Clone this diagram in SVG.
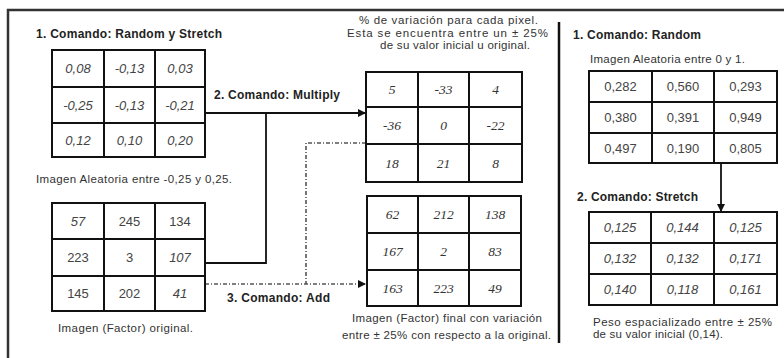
<svg xmlns="http://www.w3.org/2000/svg" width="784" height="358" viewBox="0 0 784 358">
<defs>
<marker id="arr" viewBox="0 0 10 10" refX="10" refY="5" markerWidth="9" markerHeight="8" markerUnits="userSpaceOnUse" orient="auto">
<path d="M0,0 L10,5 L0,10 z" fill="#111"/>
</marker>
<style>
.frame{fill:none;stroke:#333;stroke-width:2.5}
.grid rect,.grid line{fill:none;stroke:#111;stroke-width:2}
.grid rect{fill:#fff}
.lbl{font-family:"Liberation Sans",Arial,sans-serif;font-weight:bold;font-size:12px;fill:#222}
.txt{font-family:"Liberation Sans",Arial,sans-serif;font-size:11.5px;fill:#333}
.ns{font-family:"Liberation Sans",Arial,sans-serif;font-size:13px;fill:#444;text-anchor:middle}
.ni{font-family:"Liberation Sans",Arial,sans-serif;font-size:13px;font-style:italic;fill:#444;text-anchor:middle}
.nt{font-family:"Liberation Serif","Times New Roman",serif;font-size:13.5px;font-style:italic;fill:#333;text-anchor:middle}
.solid{fill:none;stroke:#111;stroke-width:1.8}
.dd{fill:none;stroke:#555;stroke-width:1.6;stroke-dasharray:4 2 1 2}
</style>
</defs>
<rect width="784" height="358" fill="#fff"/>
<rect class="frame" x="8" y="10" width="800" height="360"/>
<line x1="559" y1="22" x2="559" y2="343" stroke="#111" stroke-width="2.5"/>

<g id="connectors">
<path class="solid" d="M205,113 H366" marker-end="url(#arr)"/>
<path class="solid" d="M205,263 H266 V113"/>
<path class="dd" d="M366,143 H306 V284"/>
<path class="dd" d="M205,284 H366" marker-end="url(#arr)"/>
<path class="solid" d="M721,163 V212" marker-end="url(#arr)"/>
</g>

<g id="label-left">
<text class="lbl" x="36" y="38" textLength="186">1. Comando: Random y Stretch</text>
<text class="lbl" x="214" y="99" textLength="126">2. Comando: Multiply</text>
<text class="lbl" x="227" y="302" textLength="103">3. Comando: Add</text>
</g>

<g id="grid-random-stretch" class="grid">
<rect x="52" y="50" width="153" height="107"/>
<line x1="104" y1="50" x2="104" y2="157"/><line x1="155" y1="50" x2="155" y2="157"/>
<line x1="52" y1="87" x2="205" y2="87"/><line x1="52" y1="123" x2="205" y2="123"/>
<text class="ni" x="78" y="73">0,08</text><text class="ni" x="129.5" y="73">-0,13</text><text class="ni" x="180" y="73">0,03</text>
<text class="ni" x="78" y="109.5">-0,25</text><text class="ni" x="129.5" y="109.5">-0,13</text><text class="ni" x="180" y="109.5">-0,21</text>
<text class="ni" x="78" y="144.5">0,12</text><text class="ni" x="129.5" y="144.5">0,10</text><text class="ni" x="180" y="144.5">0,20</text>
<text class="txt" x="36" y="183" textLength="196">Imagen Aleatoria entre -0,25 y 0,25.</text>
</g>

<g id="grid-original" class="grid">
<rect x="52" y="203" width="153" height="108"/>
<line x1="104" y1="203" x2="104" y2="311"/><line x1="155" y1="203" x2="155" y2="311"/>
<line x1="52" y1="239" x2="205" y2="239"/><line x1="52" y1="276" x2="205" y2="276"/>
<text class="ni" x="78" y="225.5">57</text><text class="ns" x="129.5" y="225.5">245</text><text class="ns" x="180" y="225.5">134</text>
<text class="ns" x="78" y="262">223</text><text class="ns" x="129.5" y="262">3</text><text class="ni" x="180" y="262">107</text>
<text class="ns" x="78" y="298">145</text><text class="ns" x="129.5" y="298">202</text><text class="ni" x="180" y="298">41</text>
<text class="txt" x="58" y="332" textLength="135">Imagen (Factor) original.</text>
</g>

<g id="grid-variation" class="grid">
<text class="txt" x="359" y="24" textLength="179">% de variación para cada pixel.</text>
<text class="txt" x="347" y="37" textLength="201">Esta se encuentra entre un ± 25%</text>
<text class="txt" x="380" y="49" textLength="150">de su valor inicial u original.</text>
<rect x="366" y="72" width="156" height="110"/>
<line x1="418" y1="72" x2="418" y2="182"/><line x1="469" y1="72" x2="469" y2="182"/>
<line x1="366" y1="107" x2="522" y2="107"/><line x1="366" y1="144" x2="522" y2="144"/>
<text class="nt" x="392" y="94">5</text><text class="nt" x="443.5" y="94">-33</text><text class="nt" x="495.5" y="94">4</text>
<text class="nt" x="392" y="130">-36</text><text class="nt" x="443.5" y="130">0</text><text class="nt" x="495.5" y="130">-22</text>
<text class="nt" x="392" y="167.5">18</text><text class="nt" x="443.5" y="167.5">21</text><text class="nt" x="495.5" y="167.5">8</text>
</g>

<g id="grid-final" class="grid">
<rect x="367" y="196" width="154" height="110"/>
<line x1="418" y1="196" x2="418" y2="306"/><line x1="469" y1="196" x2="469" y2="306"/>
<line x1="367" y1="233" x2="521" y2="233"/><line x1="367" y1="270" x2="521" y2="270"/>
<text class="nt" x="392.5" y="219">62</text><text class="nt" x="443.5" y="219">212</text><text class="nt" x="495" y="219">138</text>
<text class="nt" x="392.5" y="256">167</text><text class="nt" x="443.5" y="256">2</text><text class="nt" x="495" y="256">83</text>
<text class="nt" x="392.5" y="292.5">163</text><text class="nt" x="443.5" y="292.5">223</text><text class="nt" x="495" y="292.5">49</text>
<text class="txt" x="352" y="322" textLength="190">Imagen (Factor) final con variación</text>
<text class="txt" x="342" y="339" textLength="209">entre ± 25% con respecto a la original.</text>
</g>

<g id="grid-random" class="grid">
<text class="lbl" x="573" y="39" textLength="128">1. Comando: Random</text>
<text class="txt" x="590" y="63" textLength="155">Imagen Aleatoria entre 0 y 1.</text>
<rect x="589" y="71" width="188" height="92"/>
<line x1="652" y1="71" x2="652" y2="163"/><line x1="714" y1="71" x2="714" y2="163"/>
<line x1="589" y1="102" x2="777" y2="102"/><line x1="589" y1="133" x2="777" y2="133"/>
<text class="ns" x="620.5" y="91">0,282</text><text class="ns" x="683" y="91">0,560</text><text class="ns" x="745.5" y="91">0,293</text>
<text class="ns" x="620.5" y="122">0,380</text><text class="ns" x="683" y="122">0,391</text><text class="ns" x="745.5" y="122">0,949</text>
<text class="ns" x="620.5" y="152.5">0,497</text><text class="ns" x="683" y="152.5">0,190</text><text class="ns" x="745.5" y="152.5">0,805</text>
</g>

<g id="grid-stretch" class="grid">
<text class="lbl" x="577" y="201" textLength="121">2. Comando: Stretch</text>
<rect x="589" y="212" width="188" height="93"/>
<line x1="651" y1="212" x2="651" y2="305"/><line x1="714" y1="212" x2="714" y2="305"/>
<line x1="589" y1="243" x2="777" y2="243"/><line x1="589" y1="274" x2="777" y2="274"/>
<text class="ni" x="620" y="232">0,125</text><text class="ni" x="682.5" y="232">0,144</text><text class="ni" x="745.5" y="232">0,125</text>
<text class="ni" x="620" y="263">0,132</text><text class="ni" x="682.5" y="263">0,132</text><text class="ni" x="745.5" y="263">0,171</text>
<text class="ni" x="620" y="294">0,140</text><text class="ni" x="682.5" y="294">0,118</text><text class="ni" x="745.5" y="294">0,161</text>
<text class="txt" x="593" y="326" textLength="179">Peso espacializado entre ± 25%</text>
<text class="txt" x="593" y="338" textLength="130">de su valor inicial (0,14).</text>
</g>
</svg>
